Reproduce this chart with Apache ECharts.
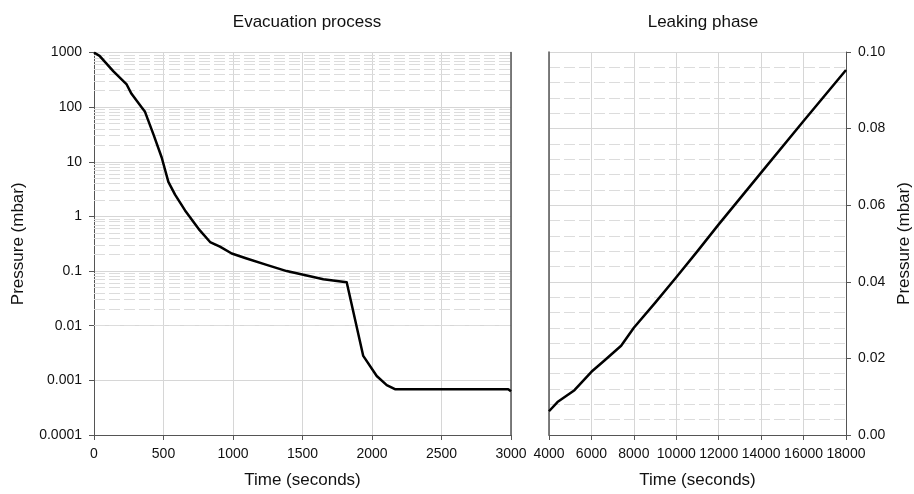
<!DOCTYPE html>
<html>
<head>
<meta charset="utf-8">
<script src="https://cdn.jsdelivr.net/npm/echarts@6/dist/echarts.min.js"></script>
<style>
  html, body { margin: 0; padding: 0; background: #ffffff; }
  #chart { width: 914px; height: 494px; }
</style>
</head>
<body>
<div id="chart"></div>
<script>
// Evacuation process: elapsed time (s) and chamber pressure (mbar)
const evacTime = [0, 40, 140, 235, 270, 345, 367, 427, 487, 535, 583, 655, 760, 835, 906, 991, 1098, 1242, 1386, 1530, 1650, 1818, 1937, 2034, 2106, 2165, 2980, 3000];
const evacPressure = [1000, 870, 450, 260, 175, 97, 82, 32, 12, 4.3, 2.5, 1.29, 0.56, 0.34, 0.28, 0.21, 0.17, 0.13, 0.1, 0.083, 0.071, 0.0625, 0.0028, 0.0012, 0.00082, 0.00069, 0.00069, 0.00063];

// Leaking phase: elapsed time (s) and pressure (mbar)
const leakTime = [4000, 4400, 5200, 6000, 6600, 7400, 8000, 9000, 10000, 11000, 12000, 14000, 16000, 18000];
const leakPressure = [0.0062, 0.0086, 0.0117, 0.0165, 0.0194, 0.0233, 0.028, 0.0345, 0.0412, 0.048, 0.055, 0.0685, 0.082, 0.0953];

// Axis ranges and tick steps
const evacTimeTicks = { min: 0, max: 3000, step: 500 };
const evacPressureRange = { min: 0.0001, max: 1000 };
const leakTimeTicks = { min: 4000, max: 18000, step: 2000 };
const leakPressureTicks = { min: 0, max: 0.1, step: 0.02 };

// Intermediate levels (2..9 x 10^n) for the dashed log grid
const logMinorLevels = [];
for (let e = -4; e <= 2; e++) {
  for (let k = 2; k <= 9; k++) logMinorLevels.push(+(k * Math.pow(10, e)).toPrecision(2));
}

const FONT = '"Liberation Sans", Arial, Helvetica, sans-serif';
const TEXT = '#111111';
const AXIS = '#555555';
const GRIDC = '#d6d6d6';
const MINOR = '#dcdcdc';

const zip = (xs, ys) => xs.map((x, i) => [x, ys[i]]);

const tickLabel = { color: TEXT, fontFamily: FONT, fontSize: 14, margin: 12, hideOverlap: false, showMaxLabel: true, showMinLabel: true };
const axisName = { color: TEXT, fontFamily: FONT, fontSize: 17 };
const titleStyle = { color: TEXT, fontFamily: FONT, fontSize: 17, fontWeight: 'normal' };

const chart = echarts.init(document.getElementById('chart'), null, { renderer: 'canvas' });

chart.setOption({
  animation: false,
  backgroundColor: '#ffffff',
  textStyle: { fontFamily: FONT },
  title: [
    { text: 'Evacuation process', left: 302, top: 9, textAlign: 'center', textStyle: titleStyle },
    { text: 'Leaking phase', left: 698, top: 9, textAlign: 'center', textStyle: titleStyle }
  ],
  grid: [
    { left: 94, right: 403, top: 52.5, bottom: 56, containLabel: false },
    { left: 549, right: 67, top: 52, bottom: 56, containLabel: false }
  ],
  xAxis: [
    {
      gridIndex: 0, type: 'value',
      min: evacTimeTicks.min, max: evacTimeTicks.max, interval: evacTimeTicks.step,
      name: 'Time (seconds)', nameLocation: 'middle', nameGap: 37, nameTextStyle: axisName,
      axisLine: { show: true, onZero: false, lineStyle: { color: AXIS, width: 1 } },
      axisTick: { show: true, inside: false, length: 5, lineStyle: { color: AXIS } },
      axisLabel: Object.assign({}, tickLabel, { formatter: v => String(v) }),
      splitLine: { show: true, lineStyle: { color: GRIDC, width: 1 } }
    },
    {
      gridIndex: 1, type: 'value',
      min: leakTimeTicks.min, max: leakTimeTicks.max, interval: leakTimeTicks.step,
      name: 'Time (seconds)', nameLocation: 'middle', nameGap: 37, nameTextStyle: axisName,
      axisLine: { show: true, onZero: false, lineStyle: { color: AXIS, width: 1 } },
      axisTick: { show: true, inside: false, length: 5, lineStyle: { color: AXIS } },
      axisLabel: Object.assign({}, tickLabel, { formatter: v => String(v) }),
      splitLine: { show: true, lineStyle: { color: GRIDC, width: 1 } }
    }
  ],
  yAxis: [
    {
      gridIndex: 0, type: 'log', logBase: 10, position: 'left',
      min: evacPressureRange.min, max: evacPressureRange.max,
      name: 'Pressure (mbar)', nameLocation: 'middle', nameGap: 67, nameRotate: 90, nameTextStyle: axisName,
      axisLine: { show: true, lineStyle: { color: AXIS, width: 1 } },
      axisTick: { show: true, inside: false, length: 5, lineStyle: { color: AXIS } },
      axisLabel: Object.assign({}, tickLabel, { formatter: v => String(+Number(v).toPrecision(1)) }),
      splitLine: { show: true, lineStyle: { color: GRIDC, width: 1 } }
    },
    {
      gridIndex: 0, type: 'log', logBase: 10, position: 'right',
      min: evacPressureRange.min, max: evacPressureRange.max,
      axisLine: { show: true, lineStyle: { color: AXIS, width: 1.5 } },
      axisTick: { show: false }, axisLabel: { show: false }, splitLine: { show: false }
    },
    {
      gridIndex: 1, type: 'value', position: 'right',
      min: leakPressureTicks.min, max: leakPressureTicks.max, interval: leakPressureTicks.step,
      name: 'Pressure (mbar)', nameLocation: 'middle', nameGap: 50, nameRotate: 90, nameTextStyle: axisName,
      axisLine: { show: true, lineStyle: { color: AXIS, width: 1 } },
      axisTick: { show: true, inside: false, length: 5, lineStyle: { color: AXIS } },
      axisLabel: Object.assign({}, tickLabel, { formatter: v => v.toFixed(2) }),
      splitLine: { show: true, lineStyle: { color: GRIDC, width: 1 } },
      minorTick: { show: false, splitNumber: 5 },
      minorSplitLine: { show: true, lineStyle: { color: MINOR, width: 1, type: [11, 4] } }
    },
    {
      gridIndex: 1, type: 'value', position: 'left',
      min: leakPressureTicks.min, max: leakPressureTicks.max,
      axisLine: { show: true, lineStyle: { color: AXIS, width: 1.5 } },
      axisTick: { show: false }, axisLabel: { show: false }, splitLine: { show: false }
    }
  ],
  series: [
    {
      // dashed intermediate grid on the log axis, kept beneath the curve
      type: 'line', xAxisIndex: 0, yAxisIndex: 0, z: 1,
      data: [[evacTime[0], evacPressure[0]]], showSymbol: false, symbol: 'none',
      lineStyle: { width: 0 }, silent: true,
      markLine: {
        z: 1, silent: true, symbol: ['none', 'none'], label: { show: false },
        lineStyle: { color: MINOR, width: 1, type: [11, 4] },
        data: logMinorLevels.map(v => ({ yAxis: v }))
      }
    },
    {
      name: 'Evacuation', type: 'line', xAxisIndex: 0, yAxisIndex: 0, z: 6,
      data: zip(evacTime, evacPressure), showSymbol: false, symbol: 'none',
      lineStyle: { color: '#000000', width: 2.5, join: 'round' }
    },
    {
      name: 'Leaking', type: 'line', xAxisIndex: 1, yAxisIndex: 2, z: 6,
      data: zip(leakTime, leakPressure), showSymbol: false, symbol: 'none',
      lineStyle: { color: '#000000', width: 2.5, join: 'round' }
    }
  ]
});
</script>
</body>
</html>
